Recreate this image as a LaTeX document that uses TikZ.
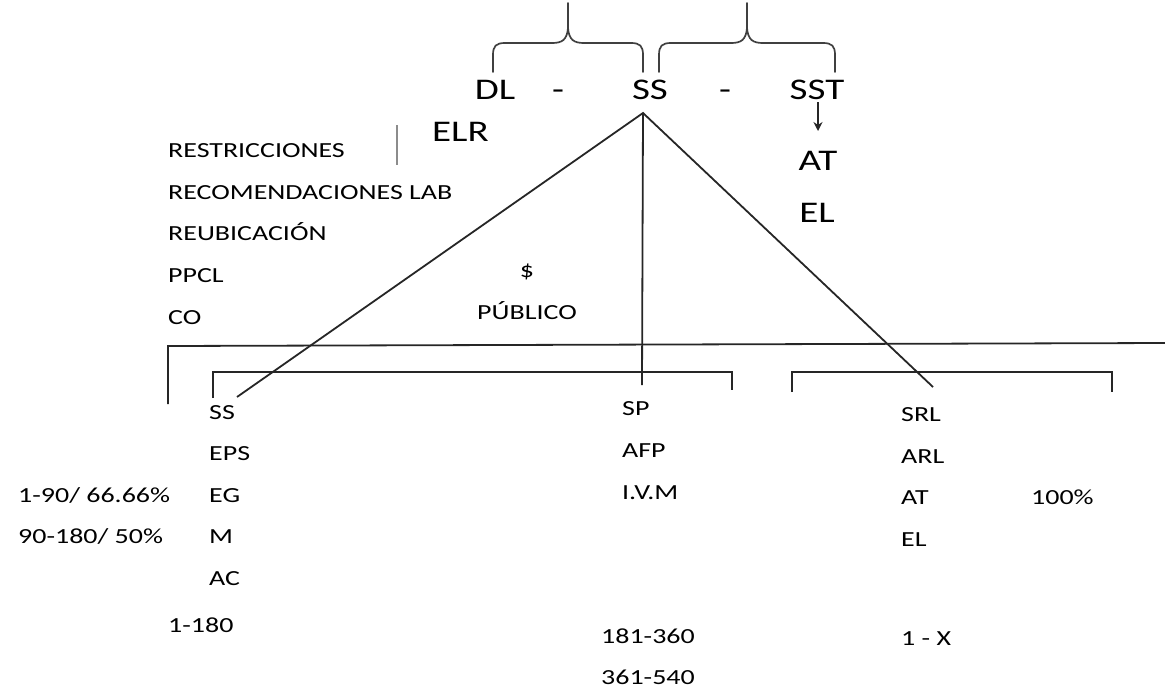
\documentclass[tikz,border=0pt]{standalone}
\usepackage{fontspec}
\setmainfont{Carlito}[FakeStretch=1.3]
\usetikzlibrary{arrows.meta}
\begin{document}
\begin{tikzpicture}[x=1pt,y=-1pt,
  small/.style={font=\fontsize{21.5}{26}\selectfont, inner sep=0pt, text height=14pt, text depth=0pt, anchor=west, text=black},
  big/.style={font=\fontsize{30}{36}\selectfont, inner sep=0pt, text height=19pt, text depth=0pt, text=black},
  ln/.style={draw=black!85, line width=1.8pt},
  brace/.style={draw=black!75, line width=1.7pt, line cap=round, line join=round}]
\useasboundingbox (0,0) rectangle (1165,689);
% top texts
\node[big] (dl) at (495,90) {DL};
\node[big] (d1) at (558,90) {-};
\node[big] (ss) at (650,90) {SS};
\node[big] (d2) at (725,90) {-};
\node[big] (sst) at (817,90) {SST};
\node[big, anchor=west] (elr) at (432,132) {ELR};
\node[big] (at) at (818,161) {AT};
\node[big] (el) at (817,213) {EL};
% braces
\draw[brace] (493,72) -- (493,55) .. controls (493,46) and (496,43) .. (505,43) -- (552,43) .. controls (562,43) and (567,40) .. (568,28) -- (568,3);
\draw[brace] (568,28) .. controls (569,40) and (574,43) .. (584,43) -- (631,43) .. controls (640,43) and (643,46) .. (643,55) -- (643,72);
\draw[brace] (659,72) -- (659,55) .. controls (659,46) and (662,43) .. (671,43) -- (731,43) .. controls (741,43) and (746,40) .. (747,28) -- (747,3);
\draw[brace] (747,28) .. controls (748,40) and (753,43) .. (763,43) -- (823,43) .. controls (832,43) and (835,46) .. (835,55) -- (835,72);
% arrow
\coordinate (arrS) at (818,102);
\coordinate (arrE) at (818,131);
\draw[ln, -{Stealth[length=9pt,width=9pt]}] (arrS) -- (arrE);
% gray bar
\coordinate (g1) at (397,125);
\coordinate (g2) at (397,165);
\draw[draw=black!45, line width=1.6pt] (g1) -- (g2);
% left list
\node[small] (r1) at (168,150) {RESTRICCIONES};
\node[small] (r2) at (168,192) {RECOMENDACIONES LAB};
\node[small] (r3) at (168,233) {REUBICACIÓN};
\node[small] (r4) at (168,275) {PPCL};
\node[small] (r5) at (168,317) {CO};
\node[small, anchor=center] (dol) at (527,270) {\$};
\node[small, anchor=center] (pub) at (527,312) {PÚBLICO};
% main horizontal line
\coordinate (h0) at (168,404);
\coordinate (h1) at (168,346);
\coordinate (h2) at (1165,343);
\draw[ln] (h0) -- (h1) -- (h2);
% brackets
\coordinate (b1a) at (213,398);
\coordinate (b1b) at (213,372);
\coordinate (b1c) at (732,372);
\coordinate (b1d) at (732,390);
\draw[ln] (b1a) -- (b1b) -- (b1c) -- (b1d);
\coordinate (b2a) at (792,392);
\coordinate (b2b) at (792,372);
\coordinate (b2c) at (1112,372);
\coordinate (b2d) at (1112,392);
\draw[ln] (b2a) -- (b2b) -- (b2c) -- (b2d);
% fan from SS
\coordinate (apex) at (643,113);
\coordinate (eL) at (237,397);
\coordinate (eM) at (642,385);
\coordinate (eR) at (933,387);
\draw[ln] (eL) -- (apex) -- (eR);
\draw[ln] (apex) -- (eM);
% column 1
\node[small] (c1a) at (209,412) {SS};
\node[small] (c1b) at (209,453) {EPS};
\node[small] (c1c) at (209,495) {EG};
\node[small] (c1d) at (209,536) {M};
\node[small] (c1e) at (209,578) {AC};
\node[small] (c1f) at (168,625) {1-180};
\node[small] (p1) at (18,495) {1-90/ 66.66\%};
\node[small] (p2) at (18,536) {90-180/ 50\%};
% column 2
\node[small] (c2a) at (622,408) {SP};
\node[small] (c2b) at (622,450) {AFP};
\node[small] (c2c) at (622,492) {I.V.M};
\node[small] (c2d) at (601,636) {181-360};
\node[small] (c2e) at (601,677) {361-540};
% column 3
\node[small] (c3a) at (901,414) {SRL};
\node[small] (c3b) at (901,456) {ARL};
\node[small] (c3c) at (901,497) {AT};
\node[small] (c3d) at (901,539) {EL};
\node[small] (c3e) at (1031,497) {100\%};
\node[small] (c3f) at (901,638) {1 - X};
\end{tikzpicture}
\end{document}
